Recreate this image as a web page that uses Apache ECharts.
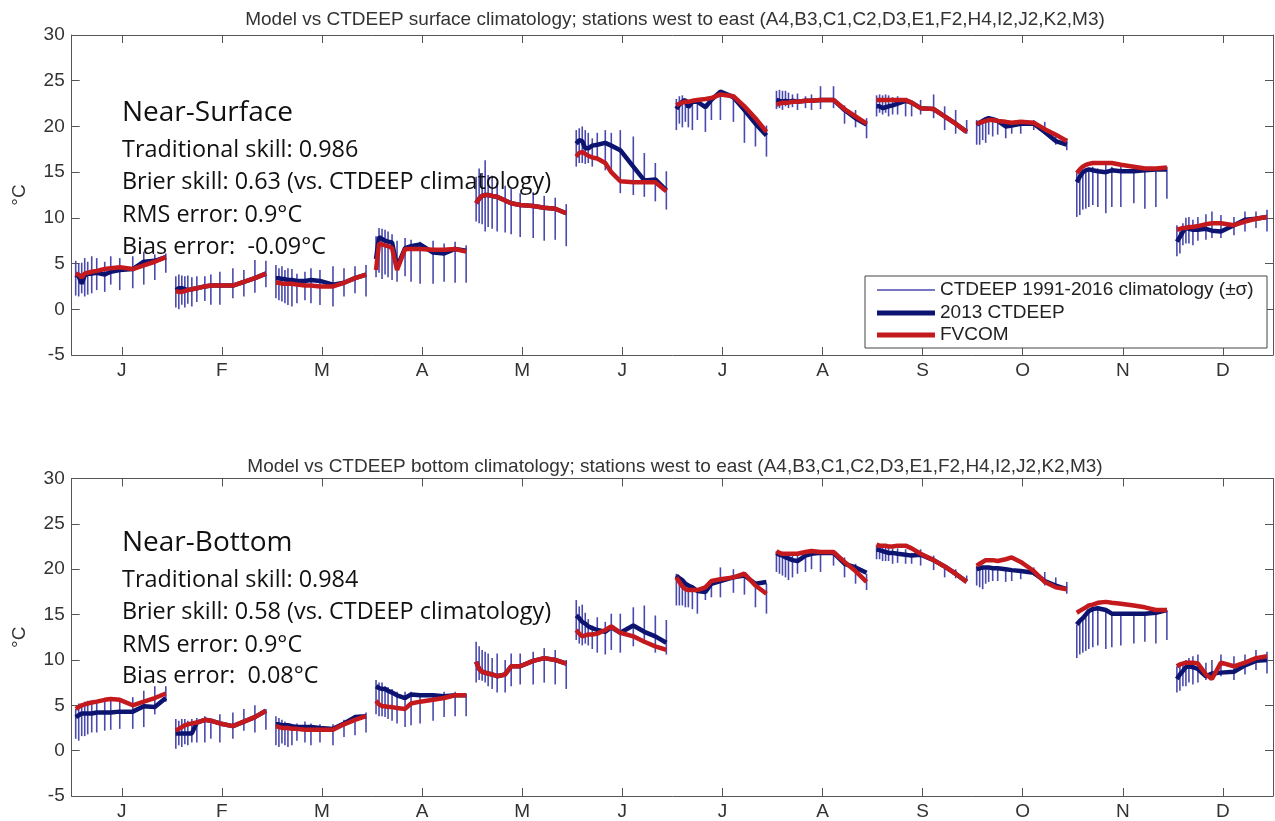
<!DOCTYPE html>
<html>
<head>
<meta charset="utf-8">
<script src="https://cdn.jsdelivr.net/npm/echarts@6/dist/echarts.min.js"></script>
<style>
  html, body { margin: 0; padding: 0; background: #fff; }
  #chart { width: 1275px; height: 821px; }
</style>
</head>
<body>
<div id="chart"></div>
<script>
// Month tick labels and station placement inside each monthly cruise (fraction of a month, west to east)
const monthLabels = ['J', 'F', 'M', 'A', 'M', 'J', 'J', 'A', 'S', 'O', 'N', 'D'];
const monthTicks = [1, 2, 3, 4, 5, 6, 7, 8, 9, 10, 11, 12];
const stationOffset = [-0.46, -0.43, -0.40, -0.37, -0.34, -0.30, -0.25, -0.17, -0.11, -0.02, 0.11, 0.22, 0.33, 0.44];

// ---- Near-surface temperature (degC), one row per month ----
const surfHi = [
  [5.3, 5.0, 5.1, 5.6, 5.2, 5.8, 5.6, 5.2, 5.8, 5.6, 5.8, 6.3, 6.0, 6.1],
  [3.6, 3.8, 3.7, 3.6, 3.7, 3.5, 3.6, 3.6, 3.8, 4.1, 4.5, 4.3, 5.4, 5.3],
  [4.85, 4.5, 4.7, 4.3, 4.5, 4.4, 3.9, 4.1, 4.5, 4.3, 4.7, 4.5, 4.7, 4.85],
  [8.0, 8.9, 8.8, 8.7, 8.5, 8.2, 7.5, 7.8, 7.6, 7.4, 7.5, 7.2, 7.4, 7.0],
  [14.5, 15.4, 14.9, 16.3, 14.7, 14.6, 13.8, 13.5, 13.2, 12.7, 12.8, 12.4, 12.2, 11.5],
  [19.6, 19.8, 20.0, 19.6, 19.3, 18.7, 19.3, 19.6, 19.3, 19.6, 18.9, 17.1, 16.0, 15.1],
  [23.0, 23.3, 23.4, 23.0, 22.9, 22.6, 23.0, 22.5, 23.0, 23.9, 23.4, 22.4, 20.9, 20.1],
  [23.9, 24.0, 23.9, 23.9, 23.7, 23.5, 23.6, 23.3, 23.5, 24.4, 24.4, 22.3, 21.8, 20.9],
  [23.4, 23.5, 23.4, 23.5, 23.4, 23.2, 23.3, 22.9, 22.7, 22.9, 23.5, 22.2, 21.8, 20.7],
  [20.7, 20.5, 20.7, 20.7, 20.5, 20.5, 20.7, 20.7, 20.5, 20.7, 20.7, 20.5, 19.1, 18.7],
  [14.9, 14.8, 15.1, 15.2, 15.2, 15.6, 15.4, 15.8, 15.6, 15.6, 15.2, 15.2, 15.4, 15.6],
  [9.2, 8.5, 9.4, 10.0, 10.1, 9.8, 10.1, 10.4, 10.7, 10.3, 10.1, 10.7, 10.7, 10.9]
];
const surfLo = [
  [1.5, 1.4, 1.75, 1.4, 1.6, 1.75, 2.1, 1.9, 2.7, 2.1, 2.3, 2.7, 3.2, 4.0],
  [0.2, 0.0, 0.5, 0.2, 0.6, 0.3, 0.8, 0.9, 0.5, 0.5, 1.2, 1.4, 1.8, 2.4],
  [1.2, 1.0, 0.84, 0.66, 0.47, 0.3, 0.66, 1.0, 0.66, 0.47, 0.3, 1.4, 1.75, 1.4],
  [3.5, 4.0, 3.3, 3.8, 3.5, 3.2, 3.0, 3.6, 3.0, 2.8, 2.8, 3.0, 2.9, 2.9],
  [9.6, 9.4, 9.3, 8.5, 9.0, 8.8, 8.5, 8.4, 8.2, 7.9, 7.8, 7.5, 7.6, 6.9],
  [15.6, 16.0, 16.0, 15.9, 16.0, 15.6, 16.3, 15.2, 14.8, 12.7, 12.5, 12.3, 11.8, 10.9],
  [19.6, 20.3, 19.9, 20.5, 19.9, 19.6, 20.7, 19.4, 20.7, 20.7, 20.5, 18.2, 17.8, 16.7],
  [21.9, 22.0, 21.8, 22.2, 22.0, 22.1, 21.8, 22.0, 21.8, 21.9, 22.0, 20.3, 19.9, 18.7],
  [21.1, 21.5, 21.3, 21.5, 21.1, 21.3, 21.3, 21.1, 21.1, 21.3, 20.9, 19.6, 19.2, 19.2],
  [18.0, 18.0, 18.5, 18.2, 19.1, 18.9, 19.1, 18.7, 19.2, 19.2, 19.6, 19.2, 18.0, 17.4],
  [10.1, 10.3, 10.9, 11.0, 11.2, 11.4, 11.2, 10.5, 11.2, 11.2, 11.6, 11.0, 11.2, 12.1],
  [5.8, 6.1, 7.0, 7.2, 7.2, 7.0, 7.5, 7.6, 7.8, 7.8, 8.1, 8.5, 8.9, 8.5]
];
const surfObs2013 = [
  [3.8, 3.6, 2.8, 3.7, 3.9, 3.9, 4.0, 3.8, 4.1, 4.3, 4.4, 5.2, 5.3, 5.7],
  [2.1, 2.3, 2.3, 2.2, 2.1, 2.2, 2.3, 2.5, 2.6, 2.6, 2.6, 3.0, 3.4, 3.9],
  [3.4, 3.4, 3.3, 3.3, 3.2, 3.2, 3.1, 3.1, 3.2, 3.1, 2.7, 2.9, 3.4, 3.8],
  [5.5, 7.9, 7.7, 7.5, 7.4, 7.3, 4.6, 6.7, 6.9, 7.1, 6.2, 6.1, 6.6, 6.4],
  [11.6, 12.1, 12.4, 12.5, 12.5, 12.4, 12.3, 11.9, 11.6, 11.4, 11.3, 11.1, 11.0, 10.5],
  [18.1, 18.5, 18.4, 17.6, 17.6, 17.9, 18.0, 18.2, 17.9, 17.4, 15.6, 14.1, 14.2, 13.0],
  [21.9, 22.4, 22.7, 22.9, 22.1, 22.7, 22.7, 22.1, 22.9, 23.8, 23.2, 21.8, 20.3, 19.0],
  [22.9, 22.8, 22.7, 22.8, 22.7, 22.8, 22.7, 22.8, 22.8, 22.9, 22.9, 21.8, 20.9, 20.2],
  [22.2, 22.2, 22.0, 22.1, 22.2, 22.3, 22.5, 22.8, 22.6, 22.0, 21.9, 21.1, 20.3, 19.4],
  [20.2, 20.4, 20.6, 20.8, 20.9, 20.8, 20.6, 20.0, 20.1, 20.3, 20.3, 19.4, 18.4, 18.0],
  [13.9, 14.5, 15.0, 15.2, 15.3, 15.2, 15.1, 15.0, 15.2, 15.1, 15.1, 15.2, 15.3, 15.3],
  [7.4, 7.9, 8.5, 8.9, 8.8, 8.7, 8.7, 8.8, 8.6, 8.5, 9.2, 9.8, 9.9, 10.1]
];
const surfFvcom = [
  [3.9, 3.8, 3.5, 3.9, 4.0, 4.1, 4.2, 4.4, 4.5, 4.6, 4.4, 4.8, 5.2, 5.7],
  [2.0, 1.9, 1.9, 2.0, 2.1, 2.2, 2.3, 2.5, 2.6, 2.6, 2.6, 3.0, 3.4, 3.9],
  [2.9, 2.9, 2.8, 2.8, 2.8, 2.8, 2.7, 2.6, 2.6, 2.5, 2.5, 2.9, 3.4, 3.8],
  [4.3, 7.2, 7.1, 7.0, 6.9, 6.7, 4.3, 6.6, 6.6, 6.6, 6.5, 6.5, 6.6, 6.3],
  [11.6, 12.1, 12.4, 12.5, 12.5, 12.4, 12.3, 11.9, 11.6, 11.4, 11.3, 11.1, 11.0, 10.5],
  [16.7, 17.1, 17.2, 17.0, 16.8, 16.6, 16.5, 16.0, 15.0, 14.0, 13.9, 13.9, 13.9, 12.9],
  [22.3, 22.5, 22.6, 22.7, 22.7, 22.8, 22.9, 23.0, 23.1, 23.5, 23.3, 22.2, 20.9, 19.4],
  [22.4, 22.5, 22.6, 22.6, 22.6, 22.7, 22.7, 22.8, 22.8, 22.9, 22.9, 21.9, 21.1, 20.3],
  [22.9, 22.9, 22.9, 22.9, 22.9, 22.9, 22.9, 22.9, 22.6, 22.0, 21.9, 21.1, 20.3, 19.4],
  [20.3, 20.4, 20.5, 20.6, 20.7, 20.7, 20.6, 20.5, 20.4, 20.5, 20.4, 19.7, 19.1, 18.4],
  [14.9, 15.3, 15.6, 15.8, 15.9, 16.0, 16.0, 16.0, 16.0, 15.8, 15.6, 15.4, 15.4, 15.5],
  [8.7, 8.8, 8.9, 8.9, 9.0, 9.0, 9.1, 9.3, 9.4, 9.4, 9.2, 9.6, 9.9, 10.1]
];

// ---- Near-bottom temperature (degC), one row per month ----
const botHi = [
  [4.6, 5.2, 5.0, 5.4, 5.5, 5.5, 5.5, 5.7, 5.7, 5.7, 5.9, 6.6, 7.1, 7.1],
  [3.5, 3.3, 3.5, 3.5, 3.3, 3.5, 3.6, 3.8, 3.5, 4.0, 4.2, 4.6, 5.0, 4.6],
  [3.8, 3.6, 3.4, 3.2, 3.0, 2.9, 3.0, 3.2, 3.0, 2.9, 2.9, 3.4, 3.8, 4.2],
  [7.8, 7.5, 7.5, 7.1, 7.0, 6.8, 6.5, 6.5, 6.5, 6.3, 6.3, 6.5, 6.5, 6.3],
  [12.0, 11.5, 11.1, 10.9, 10.7, 10.2, 10.7, 10.0, 10.7, 10.7, 10.9, 11.3, 11.1, 10.0],
  [16.6, 15.9, 16.1, 15.2, 14.5, 13.8, 14.7, 14.2, 15.1, 15.1, 15.8, 16.0, 14.9, 14.4],
  [19.5, 18.9, 18.5, 18.4, 18.2, 17.8, 17.8, 18.2, 18.4, 20.2, 20.0, 19.5, 18.6, 18.4],
  [22.0, 21.7, 21.5, 21.7, 21.5, 21.7, 21.7, 21.3, 21.7, 22.0, 22.0, 21.3, 20.6, 19.5],
  [22.7, 22.6, 22.5, 22.5, 22.4, 22.3, 22.3, 22.2, 21.8, 22.2, 21.5, 20.4, 20.0, 19.3],
  [20.4, 20.2, 20.2, 20.0, 20.0, 20.0, 20.0, 20.0, 20.0, 20.0, 20.2, 19.7, 19.1, 18.6],
  [13.9, 14.2, 14.6, 14.9, 15.3, 15.5, 15.6, 15.5, 15.1, 15.1, 15.1, 15.2, 15.3, 15.5],
  [9.3, 9.5, 9.8, 10.0, 10.2, 10.4, 10.6, 9.7, 10.0, 10.6, 10.4, 10.6, 11.1, 10.9]
];
const botLo = [
  [1.3, 1.1, 1.6, 1.6, 1.8, 2.0, 2.0, 2.2, 2.3, 2.4, 2.4, 2.6, 4.0, 5.4],
  [0.2, 0.6, 0.4, 0.7, 0.6, 0.9, 0.9, 0.9, 1.3, 0.9, 1.3, 2.2, 2.0, 2.3],
  [0.6, 0.4, 0.8, 0.6, 0.4, 0.6, 1.1, 0.9, 0.6, 0.9, 0.6, 1.5, 1.7, 2.0],
  [4.0, 3.8, 3.8, 3.7, 3.5, 3.3, 3.0, 2.6, 2.8, 3.0, 3.3, 3.7, 3.8, 3.8],
  [7.5, 7.8, 7.7, 7.5, 7.1, 6.8, 6.4, 6.4, 7.1, 7.3, 7.3, 7.5, 7.3, 6.8],
  [12.2, 11.8, 11.6, 11.8, 11.6, 11.2, 10.8, 10.6, 11.1, 10.8, 11.5, 11.8, 10.8, 10.6],
  [16.0, 16.0, 16.0, 15.8, 15.8, 15.6, 15.1, 16.6, 16.9, 16.9, 17.4, 17.2, 15.8, 15.1],
  [19.7, 19.5, 19.3, 19.1, 18.8, 19.1, 19.5, 19.7, 20.0, 19.7, 20.4, 19.1, 18.4, 17.7],
  [21.1, 21.1, 20.9, 20.9, 20.9, 20.6, 20.7, 20.6, 20.6, 20.4, 19.9, 19.1, 19.0, 18.7],
  [18.2, 18.0, 17.8, 18.4, 18.6, 18.7, 18.7, 18.6, 18.7, 18.9, 19.3, 18.2, 18.0, 17.3],
  [10.2, 10.6, 10.8, 11.0, 11.2, 11.4, 11.6, 11.2, 11.4, 11.6, 11.8, 12.0, 11.8, 12.2],
  [6.4, 6.6, 7.1, 7.1, 7.5, 7.3, 7.5, 7.8, 7.8, 8.2, 7.8, 8.4, 8.9, 8.5]
];
const botObs2013 = [
  [3.7, 3.9, 4.1, 4.1, 4.1, 4.1, 4.2, 4.2, 4.2, 4.3, 4.3, 4.9, 4.8, 5.8],
  [1.9, 1.9, 1.9, 1.9, 1.9, 1.9, 3.1, 3.4, 3.3, 3.0, 2.7, 3.2, 3.7, 4.4],
  [2.9, 2.9, 2.8, 2.8, 2.8, 2.7, 2.6, 2.6, 2.6, 2.5, 2.4, 3.0, 3.7, 3.8],
  [7.1, 6.9, 6.8, 6.8, 6.6, 6.4, 6.1, 5.8, 6.2, 6.1, 6.1, 6.0, 6.1, 6.1],
  [9.8, 9.0, 8.7, 8.6, 8.5, 8.4, 8.2, 8.4, 9.3, 9.3, 9.9, 10.2, 10.0, 9.6],
  [14.9, 14.6, 14.2, 14.0, 13.7, 13.5, 13.3, 13.1, 13.6, 13.0, 13.8, 13.1, 12.6, 11.9],
  [19.3, 19.0, 18.8, 18.4, 18.2, 18.0, 17.6, 17.5, 18.4, 18.7, 19.1, 19.3, 18.4, 18.6],
  [21.8, 21.6, 21.5, 21.3, 21.2, 21.0, 20.9, 21.5, 21.7, 21.8, 21.8, 20.6, 20.2, 19.6],
  [22.2, 22.1, 22.0, 21.9, 21.8, 21.8, 21.7, 21.6, 21.5, 21.6, 21.0, 20.3, 19.5, 18.6],
  [20.0, 20.1, 20.2, 20.2, 20.2, 20.1, 20.1, 20.0, 19.9, 19.8, 19.6, 18.7, 18.2, 17.8],
  [13.9, 14.3, 14.6, 15.0, 15.4, 15.6, 15.7, 15.5, 15.1, 15.1, 15.1, 15.1, 15.2, 15.5],
  [7.9, 8.4, 8.8, 9.2, 9.3, 9.2, 9.0, 8.2, 8.5, 8.6, 8.7, 9.4, 9.9, 10.0]
];
const botFvcom = [
  [4.6, 4.8, 5.0, 5.1, 5.2, 5.3, 5.4, 5.6, 5.7, 5.6, 5.0, 5.4, 5.8, 6.3],
  [2.2, 2.4, 2.6, 2.8, 2.9, 3.0, 3.1, 3.4, 3.3, 3.0, 2.7, 3.2, 3.7, 4.4],
  [2.7, 2.6, 2.5, 2.5, 2.5, 2.4, 2.4, 2.3, 2.3, 2.3, 2.3, 2.9, 3.4, 3.8],
  [5.5, 5.1, 4.9, 4.9, 4.8, 4.8, 4.7, 4.6, 5.2, 5.4, 5.6, 5.8, 6.1, 6.1],
  [9.8, 9.0, 8.7, 8.6, 8.5, 8.4, 8.2, 8.4, 9.3, 9.3, 9.9, 10.2, 10.0, 9.6],
  [13.3, 12.9, 12.6, 12.7, 12.8, 12.8, 12.9, 13.3, 13.7, 13.0, 12.6, 12.0, 11.5, 11.1],
  [19.1, 18.6, 18.1, 17.8, 17.7, 17.7, 17.7, 18.0, 18.7, 18.9, 19.1, 19.5, 18.2, 17.3],
  [22.0, 21.8, 21.7, 21.7, 21.7, 21.7, 21.7, 21.9, 22.0, 21.9, 21.9, 20.8, 19.8, 18.6],
  [22.7, 22.6, 22.6, 22.6, 22.5, 22.5, 22.6, 22.6, 22.3, 21.7, 21.0, 20.3, 19.5, 18.6],
  [20.4, 20.6, 20.8, 21.0, 21.0, 21.0, 20.9, 21.1, 21.3, 20.8, 19.8, 18.6, 18.0, 17.8],
  [15.2, 15.4, 15.6, 15.8, 16.0, 16.1, 16.3, 16.4, 16.3, 16.2, 16.0, 15.8, 15.5, 15.5],
  [9.3, 9.5, 9.6, 9.7, 9.7, 9.7, 9.6, 8.4, 7.9, 9.7, 9.3, 9.7, 10.2, 10.4]
];

// Panel texts
const stationList = '(A4,B3,C1,C2,D3,E1,F2,H4,I2,J2,K2,M3)';
const panelTitles = [
  'Model vs CTDEEP surface climatology; stations west to east ' + stationList,
  'Model vs CTDEEP bottom climatology; stations west to east ' + stationList
];
const panelHeads = ['Near-Surface', 'Near-Bottom'];
const panelStats = [
  ['Traditional skill: 0.986', 'Brier skill: 0.63 (vs. CTDEEP climatology)', 'RMS error: 0.9\u00B0C', 'Bias error:  -0.09\u00B0C'],
  ['Traditional skill: 0.984', 'Brier skill: 0.58 (vs. CTDEEP climatology)', 'RMS error: 0.9\u00B0C', 'Bias error:  0.08\u00B0C']
];
const NAME_CLIM = 'CTDEEP 1991-2016 climatology (\u00B1\u03C3)';
const NAME_OBS = '2013 CTDEEP';
const NAME_MOD = 'FVCOM';

// ---- styling ----
const COL_CLIM = '#4a4aae';
const COL_OBS = '#0c1470';
const COL_MOD = '#c41a1e';
const COL_AXIS = '#555';
const COL_TEXT = '#333';
const AXIS_FONT = 'Liberation Sans';

// ---- build series data ----
function barData(lo, hi) {
  const out = [];
  for (let m = 0; m < 12; m++) {
    for (let j = 0; j < stationOffset.length; j++) {
      out.push([monthTicks[m] + stationOffset[j], lo[m][j], hi[m][j]]);
    }
  }
  return out;
}
function lineData(vals) {
  const out = [];
  for (let m = 0; m < 12; m++) {
    for (let j = 0; j < stationOffset.length; j++) {
      out.push([monthTicks[m] + stationOffset[j], vals[m][j]]);
    }
    out.push([monthTicks[m] + 0.5, '-']); // break between monthly cruises
  }
  return out;
}

function panelSeries(p, lo, hi, obs, mod) {
  return [
    {
      name: NAME_CLIM, type: 'custom', xAxisIndex: p * 2, yAxisIndex: p * 2,
      itemStyle: { color: COL_CLIM }, z: 2,
      encode: { x: 0, y: [1, 2] },
      data: barData(lo, hi),
      renderItem: function (params, api) {
        const a = api.coord([api.value(0), api.value(1)]);
        const b = api.coord([api.value(0), api.value(2)]);
        return {
          type: 'line',
          shape: { x1: a[0], y1: a[1], x2: b[0], y2: b[1] },
          style: { stroke: COL_CLIM, lineWidth: 1.6 }
        };
      }
    },
    {
      name: NAME_OBS, type: 'line', xAxisIndex: p * 2, yAxisIndex: p * 2,
      showSymbol: false, symbol: 'none', z: 3,
      itemStyle: { color: COL_OBS },
      lineStyle: { color: COL_OBS, width: 4.5 },
      data: lineData(obs)
    },
    {
      name: NAME_MOD, type: 'line', xAxisIndex: p * 2, yAxisIndex: p * 2,
      showSymbol: false, symbol: 'none', z: 4,
      itemStyle: { color: COL_MOD },
      lineStyle: { color: COL_MOD, width: 4.5 },
      data: lineData(mod)
    }
  ];
}

const gridBoxes = [
  { left: 71.7, right: 2, top: 35, height: 320 },
  { left: 71.7, right: 2, top: 478.5, height: 321 }
];

function xAxes(p) {
  const base = {
    type: 'value', gridIndex: p, min: 0.5, max: 12.5,
    splitLine: { show: false },
    axisLine: { onZero: false, lineStyle: { color: COL_AXIS, width: 1 } },
    axisTick: { inside: true, length: 8, customValues: monthTicks, lineStyle: { color: COL_AXIS } }
  };
  return [
    Object.assign({}, base, {
      position: 'bottom',
      axisLabel: {
        customValues: monthTicks, margin: 6, color: COL_TEXT, fontSize: 19, fontFamily: AXIS_FONT,
        formatter: function (v) { return monthLabels[Math.round(v) - 1]; }
      }
    }),
    Object.assign({}, base, { position: 'top', axisLabel: { show: false } })
  ];
}
function yAxes(p) {
  const base = {
    type: 'value', gridIndex: p, min: -5, max: 30, interval: 5,
    splitLine: { show: false },
    axisLine: { show: true, onZero: false, lineStyle: { color: COL_AXIS, width: 1 } },
    axisTick: { show: true, inside: true, length: 8, lineStyle: { color: COL_AXIS } }
  };
  return [
    Object.assign({}, base, {
      position: 'left',
      name: '\u00B0C', nameLocation: 'middle', nameRotate: 90, nameGap: 42,
      nameTextStyle: { color: COL_TEXT, fontSize: 19, fontFamily: AXIS_FONT },
      axisLabel: { margin: 7, color: COL_TEXT, fontSize: 19, fontFamily: AXIS_FONT }
    }),
    Object.assign({}, base, { position: 'right', axisLabel: { show: false } })
  ];
}

// annotation blocks (statistics) drawn as text
function statBlock(p, headY, lineYs) {
  const els = [{
    type: 'text', z: 10,
    style: { x: 122, y: headY, text: panelHeads[p], font: '28px "Open Sans"', fill: '#111', verticalAlign: 'middle' }
  }];
  panelStats[p].forEach(function (t, i) {
    els.push({
      type: 'text', z: 10,
      style: { x: 122, y: lineYs[i], text: t, font: '23.4px "Open Sans"', fill: '#111', verticalAlign: 'middle' }
    });
  });
  return els;
}

function legendRow(name, top, h, color) {
  return {
    show: true, orient: 'horizontal', left: 877, top: top, padding: 0,
    itemWidth: 58, itemHeight: h, selectedMode: false, z: 12,
    textStyle: { color: '#222', fontSize: 19, fontFamily: AXIS_FONT, lineHeight: 20 },
    data: [{ name: name, icon: 'rect', itemStyle: { color: color } }]
  };
}

const chart = echarts.init(document.getElementById('chart'), null, { renderer: 'canvas' });
chart.setOption({
  animation: false,
  backgroundColor: '#fff',
  title: [
    { text: panelTitles[0], left: 670, top: 5, textAlign: 'center',
      textStyle: { fontSize: 19, fontWeight: 'normal', color: COL_TEXT, fontFamily: AXIS_FONT } },
    { text: panelTitles[1], left: 670, top: 452, textAlign: 'center',
      textStyle: { fontSize: 19, fontWeight: 'normal', color: COL_TEXT, fontFamily: AXIS_FONT } }
  ],
  grid: gridBoxes,
  xAxis: xAxes(0).concat(xAxes(1)),
  yAxis: yAxes(0).concat(yAxes(1)),
  legend: [
    legendRow(NAME_CLIM, 280, 1.6, COL_CLIM),
    legendRow(NAME_OBS, 303, 5, COL_OBS),
    legendRow(NAME_MOD, 325, 5, COL_MOD)
  ],
  graphic: [
    { type: 'rect', z: 11, shape: { x: 865, y: 276, width: 402, height: 72 },
      style: { fill: '#fff', stroke: '#444', lineWidth: 1 } }
  ].concat(statBlock(0, 113, [150, 182, 215, 247]))
   .concat(statBlock(1, 543, [580, 612, 645, 676])),
  series: panelSeries(0, surfLo, surfHi, surfObs2013, surfFvcom)
    .concat(panelSeries(1, botLo, botHi, botObs2013, botFvcom))
});
</script>
</body>
</html>
